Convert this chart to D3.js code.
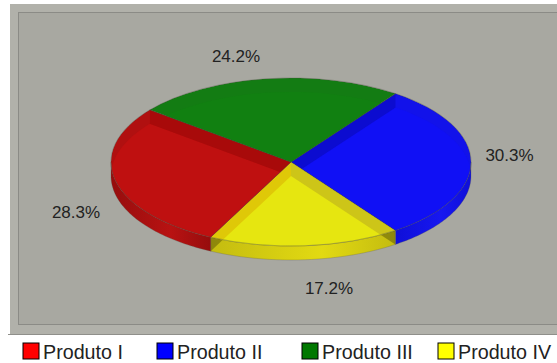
<!DOCTYPE html>
<html><head><meta charset="utf-8">
<script src="https://cdn.jsdelivr.net/npm/d3@7"></script>
<style>html,body{margin:0;padding:0;background:#fff}svg{display:block;font-family:"Liberation Sans",Arial,sans-serif}</style>
</head><body><div id="c"></div>
<script>
const categories=["Produto I","Produto II","Produto III","Produto IV"];
const sliceOrder=["Produto II","Produto IV","Produto I","Produto III"];
const sliceValues=[30.3,17.2,28.3,24.2];
const sliceLabels=["30.3%","17.2%","28.3%","24.2%"];
const legendColors=["#ff0000","#0000ff","#007800","#ffff00"];
const floorColors=["#bf1010","#1010f5","#118011","#e6e610"];
const rimColors=["#b01010","#1212ea","#137c13","#e6e610"];
const startWall=["#c40e0e","#0c0cd0","#0f760f","#cdc518"];
const endWall=["#a80a0a","#0c0cd0","#0f760f","#dfc808"];
const sideDark=["#960d0d","#0f0fd8","#0c700c","#c4bc10"];
const sideLight=["#b81212","#1717f0","#128012","#e2da12"];

const W=557,H=363,cx=291,cy=162,rx=180,ry=84,depth=14;
const svg=d3.select("#c").append("svg").attr("width",W).attr("height",H);
const defs=svg.append("defs");

// frame
svg.append("rect").attr("x",10).attr("y",4).attr("width",W-10).attr("height",330).attr("fill","#b1b1aa");
svg.append("rect").attr("x",18.5).attr("y",12.5).attr("width",W).attr("height",312).attr("fill","#a8a8a1").attr("stroke","#8b8b86").attr("stroke-width",1);
svg.append("line").attr("x1",8).attr("x2",W).attr("y1",334.5).attr("y2",334.5).attr("stroke","#8f8f8a");

const start=35.5*Math.PI/180;
const pie=d3.pie().value(d=>d).sort(null).startAngle(start).endAngle(start+2*Math.PI);
const arcs=pie(sliceValues);
const arc=d3.arc().innerRadius(0).outerRadius(rx);
const idx=i=>categories.indexOf(sliceOrder[i]);
const px=a=>cx+rx*Math.sin(a), py=a=>cy-ry*Math.cos(a);
const wallQuad=a=>d3.line()([[cx,cy],[px(a),py(a)],[px(a),py(a)+depth],[cx,cy+depth]])+"Z";

// outer front walls
const frontWalls=svg.append("g");
arcs.forEach((d,i)=>{
  const a0=Math.max(d.startAngle,Math.PI/2), a1=Math.min(d.endAngle,3*Math.PI/2);
  if(a1<=a0)return;
  const c=idx(i);
  const as=d3.range(0,61).map(k=>a0+(a1-a0)*k/60);
  const upper=as.map(a=>[px(a),py(a)]);
  const lower=as.slice().reverse().map(a=>[px(a),py(a)+depth]);
  const shape=d3.line()(upper.concat(lower))+"Z";
  const id="w"+i;
  const g=defs.append("linearGradient").attr("id",id).attr("gradientUnits","userSpaceOnUse")
    .attr("x1",px(a1)).attr("x2",px(a0)).attr("y1",0).attr("y2",0);
  g.append("stop").attr("offset",0).attr("stop-color",sideDark[c]);
  g.append("stop").attr("offset",0.6).attr("stop-color",sideLight[c]);
  g.append("stop").attr("offset",1).attr("stop-color",sideDark[c]);
  frontWalls.append("path").attr("d",shape).attr("fill",`url(#${id})`);
  defs.append("clipPath").attr("id","fw"+i).append("path").attr("d",shape);
  const over=frontWalls.append("g").attr("clip-path",`url(#fw${i})`);
  [d.startAngle,d.endAngle].forEach(a=>{
    over.append("path").attr("d",wallQuad(a)).attr("fill","#000").attr("fill-opacity",.28);
  });
  frontWalls.append("path").attr("d",shape).attr("fill","none")
    .attr("stroke","#5a5a50").attr("stroke-opacity",.45).attr("stroke-width",.6);
});

// rim sector, floor moved down and clipped, then the straight inner walls
const ellipse=`translate(${cx},${cy}) scale(1,${ry/rx})`;
const faces=svg.append("g");
arcs.forEach((d,i)=>{
  const c=idx(i);
  defs.append("clipPath").attr("id","c"+i).append("path").attr("transform",ellipse).attr("d",arc(d));
  const gc=faces.append("g").attr("clip-path",`url(#c${i})`);
  gc.append("path").attr("transform",ellipse).attr("d",arc(d)).attr("fill",rimColors[c]);
  gc.append("path").attr("transform",`translate(${cx},${cy+depth}) scale(1,${ry/rx})`).attr("d",arc(d)).attr("fill",floorColors[c]);
  gc.append("path").attr("d",wallQuad(d.startAngle)).attr("fill",startWall[c]);
  gc.append("path").attr("d",wallQuad(d.endAngle)).attr("fill",endWall[c]);
  faces.append("path").attr("transform",ellipse).attr("d",arc(d)).attr("fill","none").attr("stroke","#4a4a40").attr("stroke-opacity",.5)
    .attr("stroke-width",.7).attr("vector-effect","non-scaling-stroke");
});

// percentage labels
const labelPos=d3.scaleOrdinal().domain(sliceLabels).range([[509.5,155],[329,288],[76,212],[236,56]]);
svg.append("g").selectAll("text").data(sliceLabels).join("text")
  .attr("x",d=>labelPos(d)[0]).attr("y",d=>labelPos(d)[1]).attr("dy","0.36em")
  .attr("text-anchor","middle").attr("font-size",17).attr("fill","#222").text(d=>d);

// legend
const legendX=d3.scaleOrdinal().domain(categories).range([23,157,302,438]);
const lg=svg.append("g").selectAll("g").data(categories).join("g")
  .attr("transform",d=>`translate(${legendX(d)},343)`);
lg.append("rect").attr("width",16).attr("height",16).attr("fill",(d,i)=>legendColors[i]).attr("stroke","#000").attr("stroke-width",1);
lg.append("text").attr("x",20).attr("y",15.5).attr("font-size",19.7).attr("fill","#222").text(d=>d);
</script></body></html>
